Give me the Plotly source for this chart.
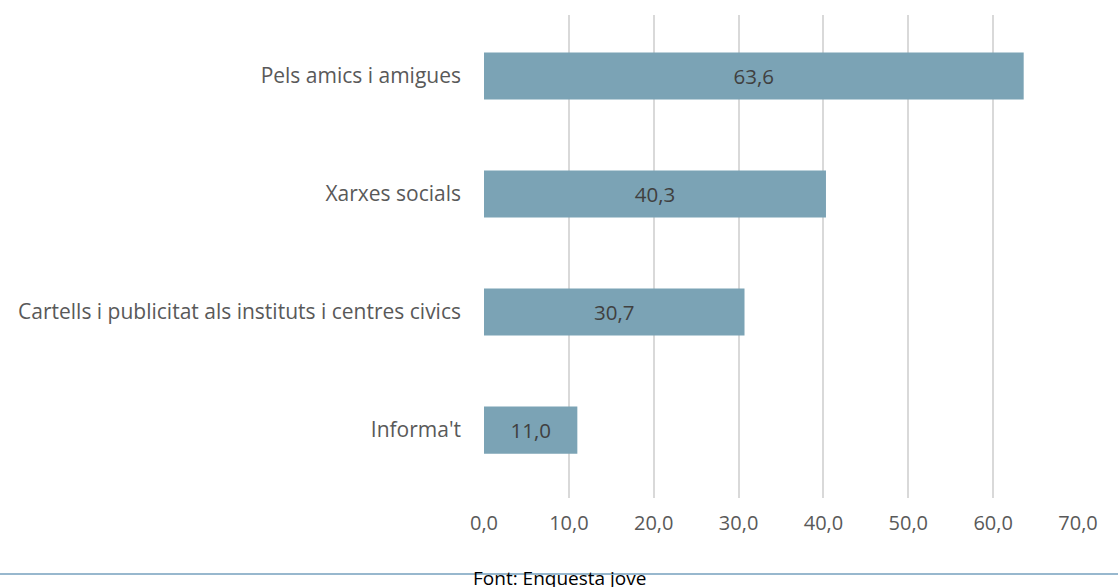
import plotly.graph_objects as go

categories = ["Informa't", "Cartells i publicitat als instituts i centres civics", "Xarxes socials", "Pels amics i amigues"]
values = [11.0, 30.7, 40.3, 63.6]
x_ticks = [0, 10, 20, 30, 40, 50, 60, 70]
source_text = "Font: Enquesta jove"

W, H = 1118, 587
L, R, T, B = 484, 1078, 15, 498

fig = go.Figure(go.Bar(
    x=values, y=categories, orientation="h",
    marker=dict(color="#7BA3B5", line=dict(width=0)),
    width=0.4,
    texttemplate="%{x:.1f}", textposition="inside", insidetextanchor="middle",
    textfont=dict(family="Open Sans", size=20.5, color="#404040"),
    hoverinfo="skip",
))

fig.update_layout(
    width=W, height=H,
    margin=dict(l=L, r=W - R, t=T, b=H - B, pad=0),
    paper_bgcolor="white", plot_bgcolor="white",
    separators=",.",
    showlegend=False,
    font=dict(family="Open Sans", color="#595959"),
    xaxis=dict(range=[0, 70], tickvals=x_ticks, tickformat=".1f",
               showgrid=True, gridcolor="#D9D9D9", gridwidth=1.5,
               zeroline=False, showline=False, ticks="",
               tickfont=dict(size=20, color="#595959"),
               ticklabelstandoff=11, fixedrange=True),
    yaxis=dict(type="category", categoryorder="array", categoryarray=categories,
               range=[-0.576, 3.517], showgrid=False, zeroline=False, showline=False,
               ticks="", tickfont=dict(size=21, color="#595959"),
               ticklabelstandoff=22, fixedrange=True),
)

pw, ph = R - L, B - T
fig.add_shape(type="line", xref="paper", yref="paper",
              x0=-L / pw, x1=1 + (W - R) / pw,
              y0=(B - 574) / ph, y1=(B - 574) / ph,
              line=dict(color="#76A0BE", width=1.5))
fig.add_annotation(text=source_text, xref="paper", yref="paper",
                   x=(559 - L) / pw, y=(B - 578) / ph, showarrow=False,
                   xanchor="center", yanchor="middle",
                   font=dict(family="Open Sans", size=19, color="#000000"))

fig.write_html("out.html", config={"displayModeBar": False},
               post_script="document.body.style.margin='0';document.body.style.overflow='hidden';")
